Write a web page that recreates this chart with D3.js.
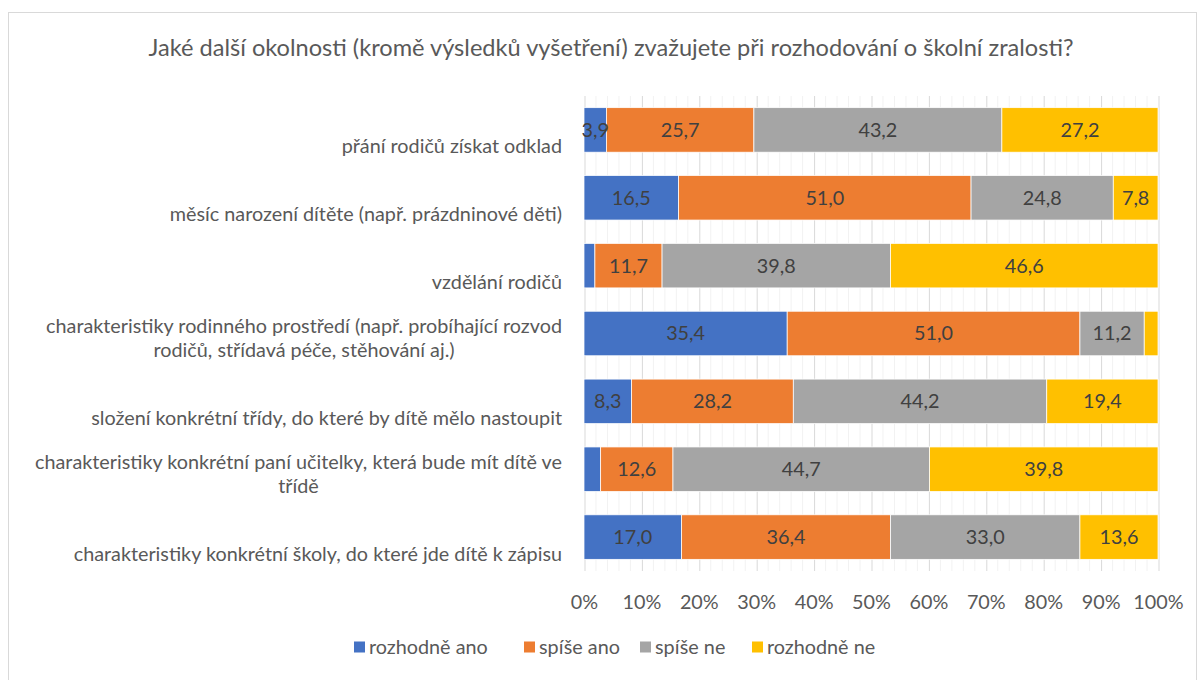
<!DOCTYPE html>
<html>
<head>
<meta charset="utf-8">
<script src="https://cdn.jsdelivr.net/npm/d3@7"></script>
<style>
  body { margin: 0; background: #fff; }
  svg text { font-family: Lato, "Open Sans", sans-serif; fill: #595959; }
</style>
</head>
<body>
<svg id="chart" width="1198" height="680"></svg>
<script>
// data (percent of respondents)
var title = "Jaké další okolnosti (kromě výsledků vyšetření) zvažujete při rozhodování o školní zralosti?";
var categories = [
    "přání rodičů získat odklad",
    "měsíc narození dítěte (např. prázdninové děti)",
    "vzdělání rodičů",
    "charakteristiky rodinného prostředí (např. probíhající rozvod\nrodičů, střídavá péče, stěhování aj.)",
    "složení konkrétní třídy, do které by dítě mělo nastoupit",
    "charakteristiky konkrétní paní učitelky, která bude mít dítě ve\ntřídě",
    "charakteristiky konkrétní školy, do které jde dítě k zápisu"
];
var seriesNames = ["rozhodně ano", "spíše ano", "spíše ne", "rozhodně ne"];
var rozhodneAno = [3.9, 16.5, 1.9, 35.4, 8.3, 2.9, 17.0];
var spiseAno = [25.7, 51.0, 11.7, 51.0, 28.2, 12.6, 36.4];
var spiseNe = [43.2, 24.8, 39.8, 11.2, 44.2, 44.7, 33.0];
var rozhodneNe = [27.2, 7.8, 46.6, 2.4, 19.4, 39.8, 13.6];
var colors = ["#4472C4", "#ED7D31", "#A5A5A5", "#FFC000"];
var tickValues = [0, 0.1, 0.2, 0.3, 0.4, 0.5, 0.6, 0.7, 0.8, 0.9, 1];

var fontSize = "19.8px";

var svg = d3.select("#chart");

// chart border
svg.append("rect")
    .attr("x", 8.5).attr("y", 12.5)
    .attr("width", 1188).attr("height", 700)
    .attr("fill", "#fff")
    .attr("stroke", "#d9d9d9");

var margin = {top: 96, left: 584, right: 40, bottom: 109};
var width = 1198 - margin.left - margin.right,
    height = 680 - margin.top - margin.bottom;

var g = svg.append("g")
    .attr("transform", "translate(" + margin.left + "," + margin.top + ")");

// build rows from the arrays, 100% stacked
var rows = categories.map(function(c, i) {
    return {cat: c, vals: [rozhodneAno[i], spiseAno[i], spiseNe[i], rozhodneNe[i]]};
});

var x = d3.scaleLinear().domain([0, 1]).range([0, width]);
var y = d3.scaleBand()
    .domain(categories)
    .range([0, height])
    .paddingInner(0.344)
    .paddingOuter(0.172);

// minor gridlines every 2 %
g.append("g").selectAll("line")
    .data(d3.range(0, 101, 2).filter(function(d) { return d % 10 != 0; }))
    .enter().append("line")
    .attr("x1", function(d) { return x(d / 100) + 0.5; })
    .attr("x2", function(d) { return x(d / 100) + 0.5; })
    .attr("y1", 0).attr("y2", height)
    .attr("stroke", "#f2f2f2");

// major gridlines + labels via axis
var axis = g.append("g")
    .attr("transform", "translate(0," + height + ")")
    .call(d3.axisBottom(x).tickValues(tickValues).tickSize(-height).tickFormat(d3.format(".0%")));
axis.select(".domain").remove();
axis.selectAll("line").attr("stroke", "#d9d9d9").attr("transform", "translate(0.5,0)");
axis.selectAll("text")
    .attr("y", 31)
    .attr("dy", "0.35em")
    .style("font-size", fontSize)
    .attr("fill", "#595959");

var loc = d3.formatLocale({decimal: ",", thousands: " ", grouping: [3], currency: ["", ""]});
var fmt = loc.format(".1f");

// bars
var barG = g.selectAll(".row")
    .data(rows)
    .enter().append("g")
    .attr("class", "row");

barG.each(function(r) {
    var total = d3.sum(r.vals);
    var acc = 0;
    var segs = r.vals.map(function(v, k) {
        var s = {v: v, k: k, x0: acc / total, x1: (acc + v) / total};
        acc += v;
        return s;
    });
    var row = d3.select(this);
    row.selectAll("rect")
        .data(segs)
        .enter().append("rect")
        .attr("x", function(s) { return x(s.x0); })
        .attr("width", function(s) { return x(s.x1) - x(s.x0); })
        .attr("y", y(r.cat))
        .attr("height", y.bandwidth())
        .attr("fill", function(s) { return colors[s.k]; })
        .attr("stroke", "#fff")
        .attr("stroke-width", 0.75);
    row.selectAll("text")
        .data(segs.filter(function(s) { return s.v >= 3; }))
        .enter().append("text")
        .attr("x", function(s) { return (x(s.x0) + x(s.x1)) / 2; })
        .attr("y", y(r.cat) + y.bandwidth() / 2)
        .attr("dy", "0.35em")
        .attr("text-anchor", "middle")
        .style("font-size", fontSize)
        .style("fill", "#404040")
        .text(function(s) { return fmt(s.v); });
});

// category labels, right edge at 562, multi-line labels centred on their block
var labelRight = -22;
categories.forEach(function(c) {
    var lines = c.split("\n");
    var t = g.append("text")
        .style("font-size", fontSize)
        .attr("text-anchor", lines.length > 1 ? "middle" : "end");
    var last = y(c) + y.bandwidth() / 2 + 16.5;
    lines.forEach(function(l, i) {
        t.append("tspan")
            .attr("y", last - (lines.length - 1 - i) * 24)
            .attr("dy", "0.35em")
            .text(l);
    });
    if (lines.length > 1) {
        var w = d3.max(t.selectAll("tspan").nodes(), function(n) { return n.getComputedTextLength(); });
        t.selectAll("tspan").attr("x", labelRight - w / 2);
    } else {
        t.selectAll("tspan").attr("x", labelRight);
    }
});

// title
svg.append("text")
    .attr("x", 611).attr("y", 48)
    .attr("dy", "0.35em")
    .attr("text-anchor", "middle")
    .style("font-size", "23.6px")
    .text(title);

// legend
var legendX = [354, 524, 640, 752];
var legend = svg.append("g").selectAll("g")
    .data(seriesNames)
    .enter().append("g")
    .attr("transform", function(d, i) { return "translate(" + legendX[i] + ",647)"; });
legend.append("rect")
    .attr("x", 0).attr("y", -5.5)
    .attr("width", 11).attr("height", 11)
    .attr("fill", function(d, i) { return colors[i]; });
legend.append("text")
    .attr("x", 15).attr("dy", "0.35em")
    .style("font-size", fontSize)
    .text(function(d) { return d; });
</script>
</body>
</html>
